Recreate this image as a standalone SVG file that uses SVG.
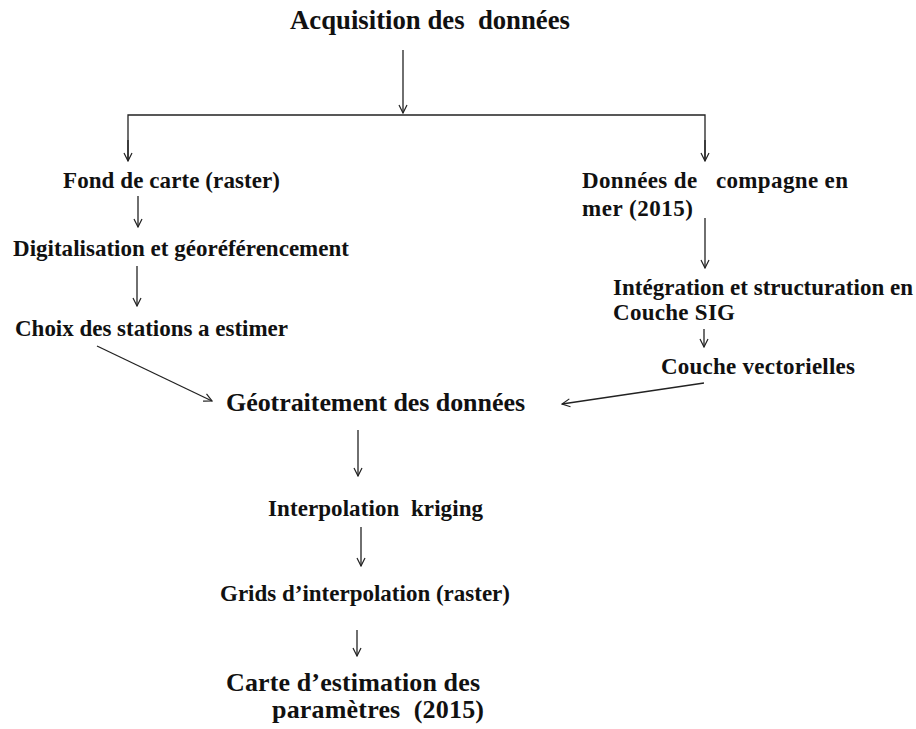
<svg xmlns="http://www.w3.org/2000/svg" width="916" height="729" viewBox="0 0 916 729">
<defs>
<marker id="ah" viewBox="0 0 10 10" refX="9" refY="5" markerWidth="10" markerHeight="10" markerUnits="userSpaceOnUse" orient="auto">
<path d="M1,1 L9,5 L1,9" fill="none" stroke="#222" stroke-width="1.2"/>
</marker>
<style>
text{font-family:"Liberation Serif","Times New Roman",serif;font-weight:bold;fill:#111}
.n{font-size:23px}
.b{font-size:26px}
.c line,.c polyline{stroke:#222;stroke-width:1.3;fill:none}
.a{marker-end:url(#ah)}
</style>
</defs>
<rect width="916" height="729" fill="#fff"/>
<g id="acquisition"><text x="290" y="29" font-size="27" textLength="280" lengthAdjust="spacingAndGlyphs" xml:space="preserve">Acquisition des  données</text></g>
<g id="fond"><text class="n" x="63" y="188" textLength="217">Fond de carte (raster)</text></g>
<g id="digit"><text class="n" x="13" y="256" textLength="336">Digitalisation et géoréférencement</text></g>
<g id="choix"><text class="n" x="15" y="336" textLength="273">Choix des stations a estimer</text></g>
<g id="donnees"><text class="n" x="582" y="188" textLength="266" xml:space="preserve">Données de   compagne en</text><text class="n" x="582" y="216" textLength="111">mer (2015)</text></g>
<g id="integration"><text class="n" x="613" y="295" textLength="300">Intégration et structuration en</text><text class="n" x="613" y="320" textLength="122">Couche SIG</text></g>
<g id="couche"><text class="n" x="661" y="374" textLength="194">Couche vectorielles</text></g>
<g id="geo"><text class="b" x="226" y="411" textLength="299">Géotraitement des données</text></g>
<g id="interp"><text class="n" x="268" y="516" textLength="215" xml:space="preserve">Interpolation  kriging</text></g>
<g id="grids"><text class="n" x="220" y="601" textLength="290">Grids d’interpolation (raster)</text></g>
<g id="carte"><text class="b" x="226" y="691" textLength="254">Carte d’estimation des</text><text class="b" x="272" y="718" textLength="212" xml:space="preserve">paramètres  (2015)</text></g>
<g id="connectors" class="c">
<line class="a" x1="403" y1="50" x2="403" y2="113"/>
<polyline points="128,160 128,115 705,115 705,160"/>
<line class="a" x1="128" y1="140" x2="128" y2="161"/>
<line class="a" x1="705" y1="140" x2="705" y2="161"/>
<line class="a" x1="138" y1="196" x2="138" y2="227"/>
<line class="a" x1="137" y1="266" x2="137" y2="306"/>
<line class="a" x1="97" y1="346" x2="212" y2="401"/>
<line class="a" x1="705" y1="218" x2="705" y2="268"/>
<line class="a" x1="704" y1="329" x2="704" y2="347"/>
<line class="a" x1="704" y1="383" x2="562" y2="404"/>
<line class="a" x1="358" y1="430" x2="358" y2="476"/>
<line class="a" x1="361" y1="527" x2="361" y2="566"/>
<line class="a" x1="357" y1="630" x2="357" y2="656"/>
</g>
</svg>
